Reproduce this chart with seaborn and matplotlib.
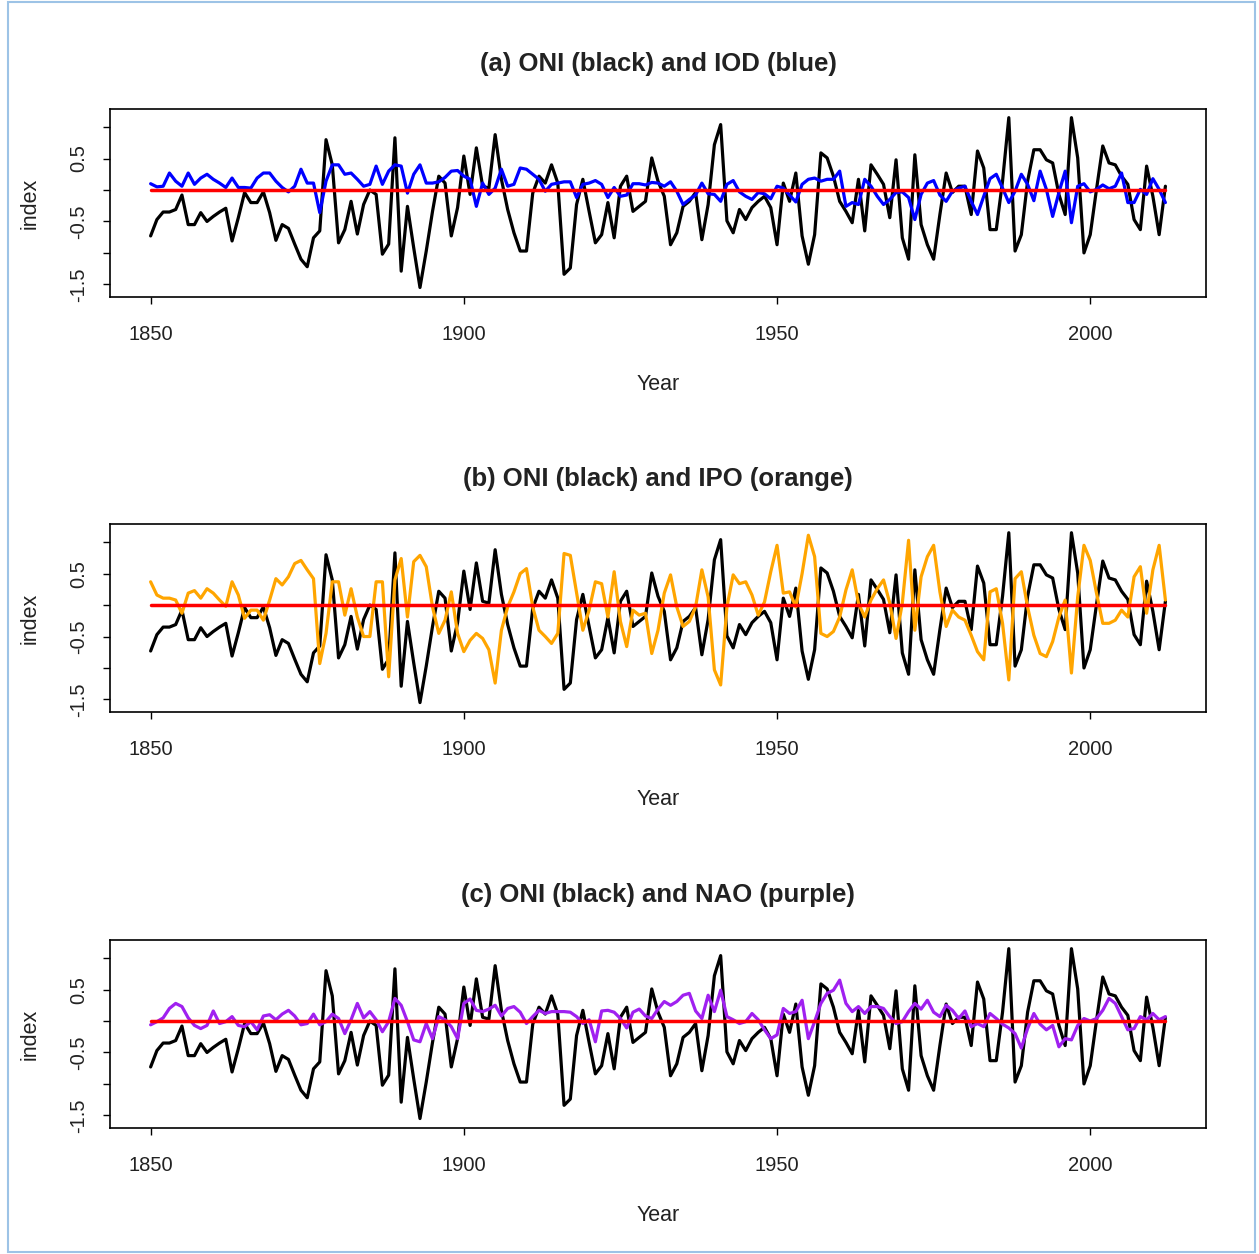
import numpy as np
import pandas as pd
import seaborn as sns
import matplotlib.pyplot as plt
from matplotlib.patches import Rectangle

# annual index values 1850-2012
years = list(range(1850, 2013))

oni = [-0.73, -0.47, -0.35, -0.35, -0.31, -0.08, -0.55, -0.55, -0.36, -0.5,
       -0.42, -0.35, -0.29, -0.81, -0.44, -0.04, -0.2, -0.2, -0.03, -0.36,
       -0.8, -0.55, -0.61, -0.86, -1.1, -1.22, -0.76, -0.65, 0.8, 0.4,
       -0.84, -0.63, -0.18, -0.7, -0.23, 0.0, -0.07, -1.02, -0.86, 0.83,
       -1.29, -0.26, -0.92, -1.55, -0.97, -0.34, 0.22, 0.11, -0.73, -0.28,
       0.54, -0.07, 0.67, 0.06, 0.03, 0.88, 0.17, -0.31, -0.68, -0.97,
       -0.97, -0.05, 0.22, 0.11, 0.4, 0.11, -1.34, -1.24, -0.23, 0.17,
       -0.34, -0.84, -0.71, -0.2, -0.76, 0.06, 0.22, -0.34, -0.26, -0.18,
       0.51, 0.14, -0.1, -0.87, -0.68, -0.26, -0.18, -0.04, -0.79, -0.23,
       0.72, 1.04, -0.49, -0.68, -0.31, -0.47, -0.28, -0.18, -0.1, -0.28,
       -0.87, 0.11, -0.18, 0.27, -0.73, -1.18, -0.71, 0.59, 0.51, 0.22,
       -0.18, -0.34, -0.52, 0.17, -0.65, 0.4, 0.25, 0.09, -0.44, 0.48,
       -0.76, -1.1, 0.56, -0.55, -0.87, -1.1, -0.39, 0.27, -0.04, 0.06,
       0.06, -0.39, 0.62, 0.35, -0.63, -0.63, 0.14, 1.15, -0.97, -0.71,
       0.14, 0.64, 0.64, 0.48, 0.43, -0.07, -0.39, 1.15, 0.51, -1.0,
       -0.71, 0.01, 0.7, 0.43, 0.4, 0.22, 0.09, -0.47, -0.63, 0.38,
       -0.1, -0.71, 0.06]

iod = [0.1, 0.05, 0.06, 0.27, 0.14, 0.06, 0.27, 0.09, 0.19, 0.25,
       0.17, 0.11, 0.04, 0.19, 0.04, 0.04, 0.03, 0.19, 0.27, 0.27,
       0.14, 0.04, -0.03, 0.06, 0.33, 0.11, 0.11, -0.36, 0.14, 0.4,
       0.4, 0.25, 0.27, 0.17, 0.06, 0.09, 0.38, 0.09, 0.3, 0.4,
       0.38, -0.05, 0.25, 0.4, 0.11, 0.11, 0.13, 0.2, 0.3, 0.31,
       0.22, 0.17, -0.26, 0.11, -0.07, 0.03, 0.33, 0.06, 0.09, 0.35,
       0.33, 0.25, 0.17, -0.02, 0.09, 0.11, 0.13, 0.13, -0.12, 0.09,
       0.11, 0.15, 0.09, -0.12, 0.04, -0.1, -0.08, 0.1, 0.1, 0.08,
       0.12, 0.11, 0.06, 0.13, -0.02, -0.23, -0.15, -0.08, 0.11, -0.06,
       -0.07, -0.18, 0.09, 0.15, -0.03, -0.1, -0.15, -0.04, -0.06, -0.14,
       0.06, 0.03, -0.08, -0.19, 0.09, 0.17, 0.19, 0.14, 0.17, 0.17,
       0.3, -0.26, -0.2, -0.23, 0.17, 0.06, -0.1, -0.23, -0.15, -0.04,
       -0.03, -0.12, -0.47, -0.07, 0.11, 0.15, -0.08, -0.18, -0.02, 0.03,
       0.06, -0.18, -0.39, -0.1, 0.18, 0.25, 0.03, -0.2, -0.02, 0.25,
       0.09, -0.17, 0.3, 0.01, -0.42, -0.04, 0.3, -0.52, 0.06, 0.1,
       -0.03, 0.01, 0.08, 0.02, 0.06, 0.27, -0.2, -0.2, 0.01, -0.07,
       0.18, 0.01, -0.2]

ipo = [0.37, 0.16, 0.11, 0.11, 0.08, -0.13, 0.19, 0.23, 0.11, 0.26,
       0.19, 0.08, -0.02, 0.37, 0.16, -0.21, -0.08, -0.08, -0.24, 0.08,
       0.42, 0.32, 0.45, 0.66, 0.71, 0.56, 0.42, -0.93, -0.45, 0.37,
       0.37, -0.16, 0.26, -0.19, -0.5, -0.5, 0.37, 0.37, -1.14, 0.4,
       0.74, -0.19, 0.69, 0.79, 0.61, -0.03, -0.45, -0.24, 0.21, -0.45,
       -0.74, -0.56, -0.45, -0.53, -0.71, -1.24, -0.4, -0.03, 0.21, 0.5,
       0.58, -0.03, -0.4, -0.5, -0.61, -0.45, 0.82, 0.79, 0.19, -0.4,
       -0.08, 0.37, 0.34, -0.19, 0.53, -0.26, -0.66, -0.08, -0.16, -0.13,
       -0.77, -0.4, 0.19, 0.48, -0.03, -0.34, -0.26, -0.03, 0.56, 0.13,
       -1.03, -1.27, -0.03, 0.48, 0.34, 0.37, 0.16, -0.16, 0.05, 0.53,
       0.95, 0.19, 0.21, -0.03, 0.5, 1.11, 0.77, -0.45, -0.5, -0.42,
       -0.19, 0.24, 0.56, 0.03, -0.19, 0.08, 0.26, 0.4, 0.03, -0.53,
       0.03, 1.03, -0.4, 0.45, 0.77, 0.95, 0.21, -0.34, -0.08, -0.19,
       -0.24, -0.48, -0.74, -0.87, 0.21, 0.26, -0.29, -1.19, 0.42, 0.53,
       -0.03, -0.48, -0.77, -0.82, -0.58, -0.19, 0.08, -1.08, 0.13, 0.95,
       0.71, 0.19, -0.29, -0.29, -0.24, -0.08, -0.19, 0.45, 0.61, -0.13,
       0.56, 0.95, 0.08]

nao = [-0.06, -0.01, 0.05, 0.2, 0.28, 0.23, 0.05, -0.07, -0.12, -0.07,
       0.16, -0.04, -0.01, 0.07, -0.07, -0.09, -0.01, -0.14, 0.08, 0.1,
       0.02, 0.11, 0.17, 0.08, -0.06, -0.04, 0.11, -0.06, -0.01, 0.11,
       0.04, -0.2, 0.02, 0.28, 0.05, 0.15, 0.02, -0.17, -0.01, 0.36,
       0.25, -0.01, -0.3, -0.33, -0.04, -0.28, 0.07, 0.02, -0.09, -0.28,
       0.28, 0.35, 0.17, 0.15, 0.19, 0.25, 0.08, 0.2, 0.23, 0.14,
       -0.04, 0.07, 0.17, 0.12, 0.15, 0.15, 0.15, 0.14, 0.07, -0.04,
       0.02, -0.33, 0.16, 0.17, 0.14, 0.04, -0.11, 0.14, 0.19, 0.08,
       0.04, 0.19, 0.31, 0.25, 0.31, 0.41, 0.44, 0.16, 0.04, 0.41,
       0.15, 0.49, 0.07, 0.02, -0.04, -0.01, 0.12, 0.02, -0.14, -0.28,
       -0.22, 0.2, 0.12, 0.15, 0.33, -0.28, -0.01, 0.28, 0.44, 0.49,
       0.65, 0.28, 0.15, 0.23, 0.12, 0.23, 0.23, 0.2, 0.07, -0.04,
       -0.01, 0.15, 0.28, 0.19, 0.33, 0.14, 0.07, 0.25, 0.17, 0.04,
       0.16, -0.09, -0.04, -0.09, 0.12, 0.04, -0.05, -0.11, -0.2, -0.43,
       -0.12, 0.12, -0.05, -0.14, -0.07, -0.41, -0.28, -0.3, -0.07, 0.04,
       0.0, 0.04, 0.17, 0.36, 0.28, 0.07, -0.14, -0.12, 0.07, 0.02,
       0.12, 0.02, 0.07]

df = pd.DataFrame({'Year': years, 'ONI': oni, 'IOD': iod, 'IPO': ipo,
                   'NAO': nao, 'zero': 0.0})

panels = [('IOD', 'blue', '(a) ONI (black) and IOD (blue)'),
          ('IPO', 'orange', '(b) ONI (black) and IPO (orange)'),
          ('NAO', '#a020f0', '(c) ONI (black) and NAO (purple)')]

sns.set_theme(style='white')
plt.rcParams['font.family'] = ['Liberation Sans', 'DejaVu Sans']

fig = plt.figure(figsize=(12.59, 12.54), dpi=100)
fig.patches.append(Rectangle((8 / 1259, 2 / 1254), 1247 / 1259, 1250 / 1254,
                             transform=fig.transFigure, fill=False,
                             edgecolor='#9dc3e6', lw=1.5))

bottoms = [0.7632, 0.4322, 0.1005]
for (col, color, title), bottom in zip(panels, bottoms):
    ax = fig.add_axes([0.0874, bottom, 0.8705, 0.1500])
    sns.lineplot(data=df, x='Year', y='ONI', ax=ax, color='black', lw=2.3)
    sns.lineplot(data=df, x='Year', y=col, ax=ax, color=color, lw=2.3)
    sns.lineplot(data=df, x='Year', y='zero', ax=ax, color='red', lw=2.5)
    ax.set_xlim(1843.52, 2018.48)
    ax.set_ylim(-1.70, 1.29)
    ax.set_xticks([1850, 1900, 1950, 2000])
    ax.set_yticks([-1.5, -1.0, -0.5, 0.0, 0.5, 1.0])
    ax.set_yticklabels(['-1.5', '', '-0.5', '', '0.5', ''], rotation=90,
                       va='center')
    ax.tick_params(axis='both', direction='out', length=5, width=1,
                   color='black', labelsize=14.5, labelcolor='#222222',
                   left=True, bottom=True)
    ax.tick_params(axis='x', pad=15)
    ax.tick_params(axis='y', pad=11)
    for s in ax.spines.values():
        s.set_color('black')
        s.set_linewidth(1.2)
    ax.set_title(title, fontsize=18.5, fontweight='bold', pad=27,
                 color='#222222')
    ax.set_xlabel('Year', fontsize=15.5, labelpad=22, color='#222222')
    ax.set_ylabel('index', fontsize=15.5, labelpad=20, color='#222222')

fig.savefig('out.png', dpi=100, facecolor='white')
